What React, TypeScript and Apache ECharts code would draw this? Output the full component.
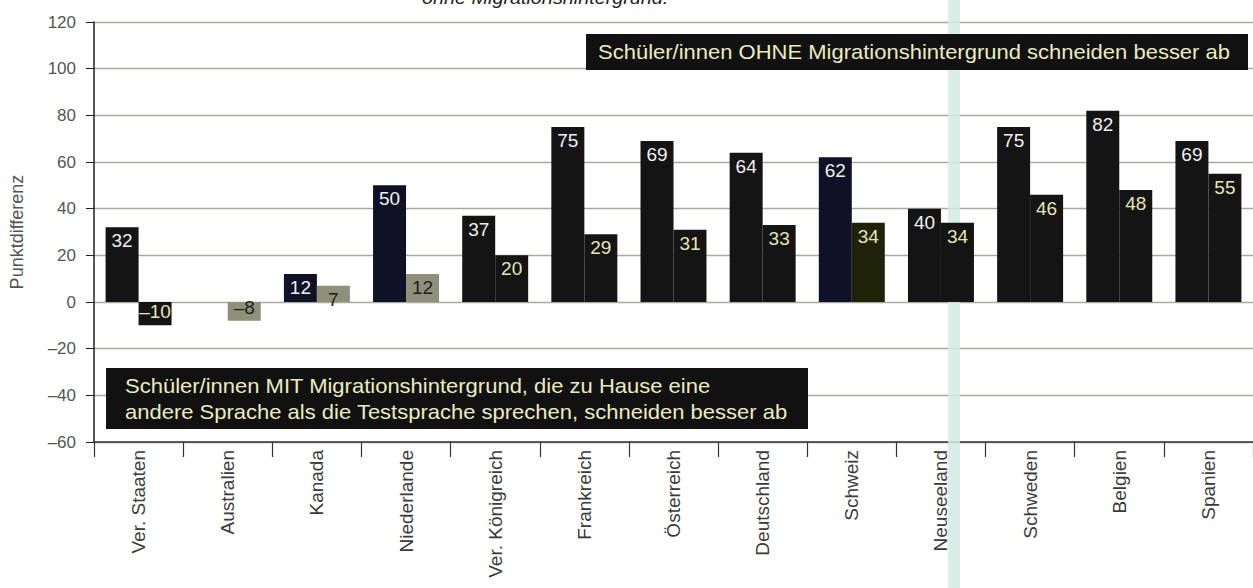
import React, { useEffect, useRef } from "react";
import * as echarts from "echarts";

const categories: string[] = [
  "Ver. Staaten", "Australien", "Kanada", "Niederlande", "Ver. Königreich", "Frankreich",
  "Österreich", "Deutschland", "Schweiz", "Neuseeland", "Schweden", "Belgien", "Spanien",
];
// Schüler/innen ohne Migrationshintergrund vs. Migrationshintergrund (1. Generation)
const seriesA: (number | null)[] = [32, null, 12, 50, 37, 75, 69, 64, 62, 40, 75, 82, 69];
// Schüler/innen mit Migrationshintergrund, die zu Hause eine andere Sprache sprechen
const seriesB: number[] = [-10, -8, 7, 12, 20, 29, 31, 33, 34, 34, 46, 48, 55];

const yMin = -60;
const yMax = 120;
const yInterval = 20;

const navyA = ["Kanada", "Niederlande", "Schweiz"];
const greyB = ["Australien", "Kanada", "Niederlande"];
const oliveB = ["Schweiz"];

const FONT = "Liberation Sans, Arial, sans-serif";
const dash = (v: number) => (v < 0 ? "–" + Math.abs(v) : String(v));

function buildA() {
  return seriesA.map((v, i) => ({
    value: v,
    itemStyle: { color: navyA.includes(categories[i]) ? "#0f1226" : "#141414" },
    label: { color: "#f0f0f0", position: v !== null && v < 0 ? "insideBottom" : "insideTop" },
  }));
}

function buildB() {
  return seriesB.map((v, i) => {
    const c = categories[i];
    const grey = greyB.includes(c);
    return {
      value: v,
      itemStyle: { color: grey ? "#8e9079" : oliveB.includes(c) ? "#1d2208" : "#141414" },
      label: { color: grey ? "#1e1e1e" : "#e6e6b4", position: v < 0 ? "insideBottom" : "insideTop" },
    };
  });
}

export default function App() {
  const ref = useRef<HTMLDivElement>(null);
  useEffect(() => {
    const chart = echarts.init(ref.current!, null, { renderer: "svg" });
    const boxFont = "20px Liberation Sans, Arial, sans-serif";
    const option: any = {
      animation: false,
      backgroundColor: "#ffffff",
      textStyle: { fontFamily: FONT },
      grid: { left: 93, top: 22, width: 1170, height: 420 },
      xAxis: {
        type: "category",
        data: categories,
        position: "bottom",
        axisLine: { onZero: false, lineStyle: { color: "#333", width: 1.5 } },
        axisTick: { show: true, length: 15, lineStyle: { color: "#333", width: 1.2 } },
        axisLabel: { rotate: 90, fontSize: 19, color: "#3a3a3a", margin: 8, fontFamily: FONT },
      },
      yAxis: {
        type: "value",
        min: yMin,
        max: yMax,
        interval: yInterval,
        name: "Punktdifferenz",
        nameLocation: "middle",
        nameGap: 68,
        nameTextStyle: { fontSize: 18, color: "#555", fontFamily: FONT },
        axisLine: { show: true, lineStyle: { color: "#222", width: 1.5 } },
        axisTick: { show: true, length: 8, lineStyle: { color: "#222" } },
        axisLabel: { fontSize: 17, color: "#555", margin: 18, fontFamily: FONT, formatter: (v: number) => dash(v) },
        splitLine: { show: true, lineStyle: { color: "#a9a99f", width: 1.3 } },
      },
      series: [
        {
          type: "bar",
          data: buildA(),
          barGap: "0%",
          barCategoryGap: "26%",
          label: { show: true, fontSize: 19, distance: 4, fontFamily: FONT, formatter: (p: any) => dash(p.value) },
        },
        {
          type: "bar",
          data: buildB(),
          barGap: "0%",
          barCategoryGap: "26%",
          label: { show: true, fontSize: 19, distance: 4, fontFamily: FONT, formatter: (p: any) => dash(p.value) },
        },
      ],
      graphic: [
        {
          type: "rect",
          z: 1,
          shape: { x: 948, y: 0, width: 12, height: 588 },
          style: { fill: "#d3ebe4", opacity: 0.85 },
        },
        {
          type: "text",
          z: 100,
          x: 422,
          y: 7,
          scaleX: 1.1,
          style: {
            text: "ohne Migrationshintergrund.",
            font: "italic 18px Liberation Sans, Arial, sans-serif",
            fill: "#222",
            verticalAlign: "bottom",
          },
        },
        {
          type: "rect",
          z: 100,
          shape: { x: 586, y: 34, width: 662, height: 36 },
          style: { fill: "#111" },
        },
        {
          type: "text",
          z: 101,
          x: 598,
          y: 52,
          scaleX: 1.1,
          style: {
            text: "Schüler/innen OHNE Migrationshintergrund schneiden besser ab",
            font: boxFont,
            fill: "#ecebc0",
            verticalAlign: "middle",
          },
        },
        {
          type: "rect",
          z: 100,
          shape: { x: 106, y: 368, width: 702, height: 61 },
          style: { fill: "#111" },
        },
        {
          type: "text",
          z: 101,
          x: 125,
          y: 386,
          scaleX: 1.1,
          style: {
            text: "Schüler/innen MIT Migrationshintergrund, die zu Hause eine",
            font: boxFont,
            fill: "#ecebc0",
            verticalAlign: "middle",
          },
        },
        {
          type: "text",
          z: 101,
          x: 125,
          y: 412,
          scaleX: 1.1,
          style: {
            text: "andere Sprache als die Testsprache sprechen, schneiden besser ab",
            font: boxFont,
            fill: "#ecebc0",
            verticalAlign: "middle",
          },
        },
      ],
    };
    chart.setOption(option);
    return () => chart.dispose();
  }, []);
  return (
    <div
      ref={ref}
      style={{ position: "absolute", left: 0, top: 0, width: 1253, height: 588 }}
    />
  );
}
